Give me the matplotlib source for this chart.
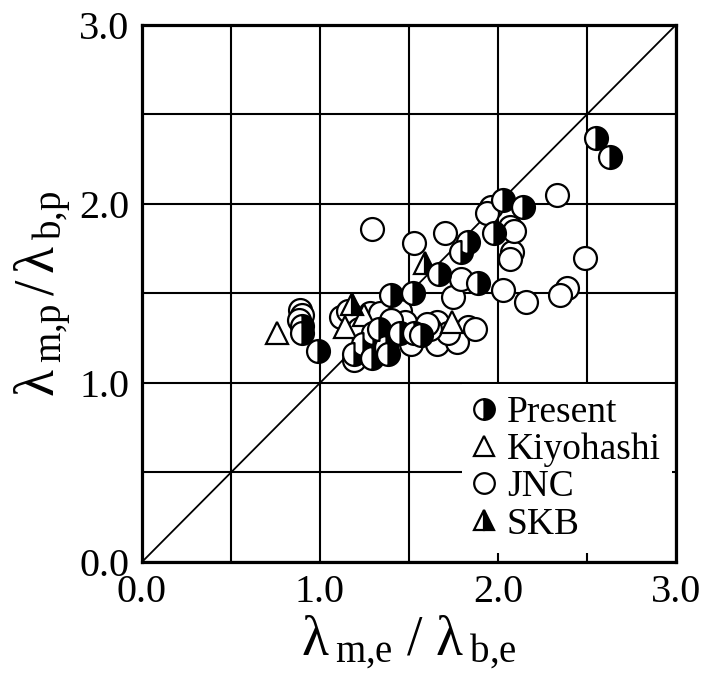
import matplotlib
matplotlib.use("Agg")
import matplotlib.pyplot as plt

plt.rcParams["font.family"] = ["Liberation Serif", "DejaVu Serif"]
plt.rcParams["mathtext.fontset"] = "custom"
plt.rcParams["mathtext.rm"] = "Liberation Serif"
plt.rcParams["mathtext.it"] = "Liberation Serif:italic"

# ratio of measured / predicted values, per data source
present_x = [2.55, 2.63, 2.03, 2.14, 1.98, 1.83, 1.79, 1.67, 1.89, 1.52, 1.40,
             0.90, 0.90, 0.99, 1.30, 1.45, 1.53, 1.24, 1.37, 1.19, 1.29, 1.38,
             1.33, 1.57]
present_y = [2.37, 2.26, 2.02, 1.98, 1.84, 1.79, 1.73, 1.61, 1.56, 1.50, 1.49,
             1.32, 1.28, 1.18, 1.28, 1.28, 1.28, 1.22, 1.20, 1.16, 1.14, 1.16,
             1.30, 1.27]

kiyo_x = [0.76, 1.14, 1.74, 1.25]
kiyo_y = [1.28, 1.31, 1.34, 1.38]

jnc_x = [0.89, 0.90, 0.88, 1.29, 1.53, 1.70, 2.33, 2.49, 2.39, 2.35, 2.03,
         2.16, 2.08, 2.07, 2.07, 2.09, 1.96, 1.94, 1.75, 1.12, 1.16, 1.28,
         1.34, 1.45, 1.66, 1.83, 1.66, 1.77, 1.56, 1.51, 1.19, 1.22, 1.72,
         1.62, 1.48, 1.40, 1.87, 1.79, 1.60]
jnc_y = [1.41, 1.38, 1.35, 1.86, 1.78, 1.84, 2.05, 1.70, 1.53, 1.49, 1.52,
         1.45, 1.73, 1.69, 1.87, 1.85, 1.98, 1.95, 1.48, 1.37, 1.40, 1.39,
         1.39, 1.40, 1.34, 1.31, 1.22, 1.23, 1.27, 1.22, 1.13, 1.30, 1.28,
         1.30, 1.34, 1.35, 1.30, 1.58, 1.33]

skb_x = [1.18, 1.59]
skb_y = [1.44, 1.67]

ticks = [0.0, 0.5, 1.0, 1.5, 2.0, 2.5, 3.0]
tick_labels = ["0.0", "", "1.0", "", "2.0", "", "3.0"]

fig = plt.figure(figsize=(7.10, 6.73), dpi=100)
ax = fig.add_axes([0.200, 0.165, 0.752, 0.798])

ax.set_xlim(0, 3)
ax.set_ylim(0, 3)
ax.set_xticks(ticks)
ax.set_yticks(ticks)
ax.set_xticklabels(tick_labels)
ax.set_yticklabels(tick_labels)
ax.tick_params(length=0, labelsize=29, pad=9)
ax.grid(True, color="black", lw=1.5, zorder=0)
for s in ax.spines.values():
    s.set_linewidth(2.3)

ax.plot([0, 3], [0, 3], color="black", lw=1.3, zorder=1)

mk = dict(ls="none", ms=16.5, mec="black", mew=1.6, zorder=3)
ax.plot(jnc_x, jnc_y, marker="o", mfc="white", label="JNC", **mk)
ax.plot(kiyo_x, kiyo_y, marker="^", mfc="white", label="Kiyohashi", **mk)
ax.plot(skb_x, skb_y, marker="^", mfc="black", fillstyle="right",
        markerfacecoloralt="white", label="SKB", **mk)
ax.plot(present_x, present_y, marker="o", mfc="black", fillstyle="right",
        markerfacecoloralt="white", label="Present", **mk)

handles, labels = ax.get_legend_handles_labels()
order = [3, 1, 0, 2]
leg = ax.legend([handles[i] for i in order], [labels[i] for i in order],
                loc="lower right", bbox_to_anchor=(0.993, 0.017),
                fontsize=27, frameon=True, fancybox=False, framealpha=1,
                facecolor="white", edgecolor="none", handlelength=0.6,
                handletextpad=0.3, labelspacing=0.07, borderpad=0.3,
                borderaxespad=0, markerscale=0.9)
leg.set_zorder(5)

ax.set_xlabel(r"$\mathrm{\lambda\,_{m{,}e}\ /\ \lambda\,_{b{,}e}}$", fontsize=40, labelpad=2)
ax.set_ylabel(r"$\mathrm{\lambda\,_{m{,}p}\,/\,\lambda\,_{b{,}p}}$", fontsize=40, labelpad=4)

fig.savefig("out.png", dpi=100, facecolor="white")
